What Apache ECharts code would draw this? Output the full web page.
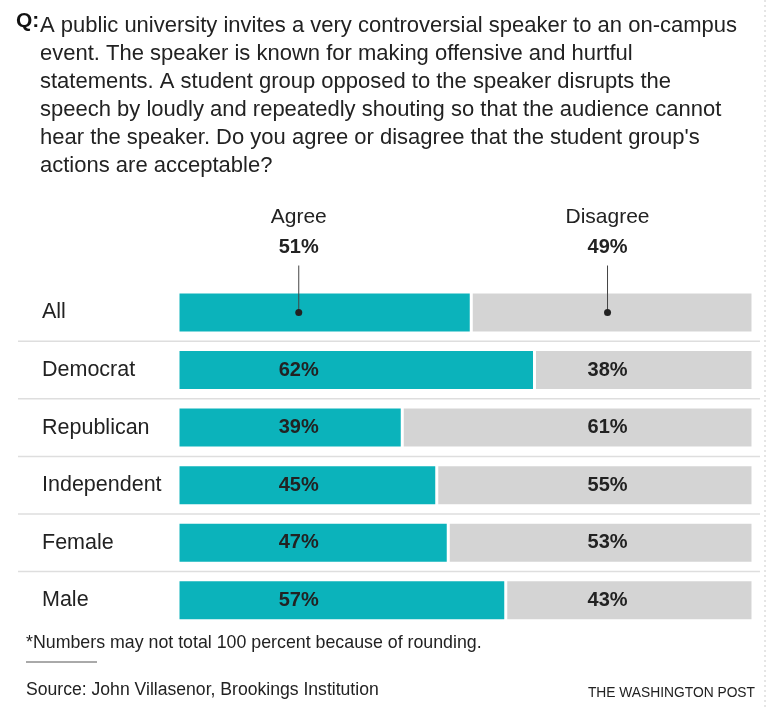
<!DOCTYPE html>
<html>
<head>
<meta charset="utf-8">
<script src="https://cdn.jsdelivr.net/npm/echarts@6/dist/echarts.min.js"></script>
<style>
  html, body { margin: 0; padding: 0; background: #fff; }
  #chart { width: 768px; height: 708px; }
</style>
</head>
<body>
<div id="chart"></div>
<script>
const groups = ['All', 'Democrat', 'Republican', 'Independent', 'Female', 'Male']
const agree = [51, 62, 39, 45, 47, 57]
const disagree = [49, 38, 61, 55, 53, 43]
const answerNames = ['Agree', 'Disagree']

const questionLines = [
    'A public university invites a very controversial speaker to an on-campus',
    'event. The speaker is known for making offensive and hurtful',
    'statements. A student group opposed to the speaker disrupts the',
    'speech by loudly and repeatedly shouting so that the audience cannot',
    "hear the speaker. Do you agree or disagree that the student group's",
    'actions are acceptable?'
]

const TEAL = '#0bb3bb'
const GREY = '#d4d4d4'
const INK = '#222'
const FONT = '"Liberation Sans", Arial, sans-serif'

// fixed label columns (in % of the axis)
const agreeCol = 21
const disagreeCol = 74.7

const chart = echarts.init(document.getElementById('chart'))

const options = {
    animation: false,
    textStyle: { fontFamily: FONT },
    title: [
        {
            text: 'Q:', left: 16, top: 11, padding: 0,
            textStyle: { fontSize: 21, fontWeight: 'bold', color: '#111', fontFamily: FONT }
        },
        {
            text: questionLines.join('\n'), left: 40, top: 12, padding: 0,
            textStyle: { fontSize: 22, lineHeight: 28, fontWeight: 'normal', color: INK, fontFamily: FONT }
        },
        {
            text: '*Numbers may not total 100 percent because of rounding.', left: 26, top: 634, padding: 0,
            textStyle: { fontSize: 17.8, fontWeight: 'normal', color: INK, fontFamily: FONT }
        },
        {
            text: 'Source: John Villasenor, Brookings Institution', left: 26, top: 681, padding: 0,
            textStyle: { fontSize: 17.6, fontWeight: 'normal', color: INK, fontFamily: FONT }
        },
        {
            text: 'THE WASHINGTON POST', right: 13, top: 686, padding: 0,
            textStyle: { fontSize: 13.8, fontWeight: 'normal', color: INK, fontFamily: FONT }
        }
    ],
    graphic: [
        { type: 'line', shape: { x1: 26, y1: 662, x2: 97, y2: 662 }, style: { stroke: '#555', lineWidth: 1 } },
        { type: 'line', shape: { x1: 765, y1: 0, x2: 765, y2: 708 }, style: { stroke: '#ccc', lineWidth: 1, lineDash: [2, 3] } }
    ],
    grid: { left: 178, right: 15, top: 283.75, bottom: 708 - 629 },
    xAxis: { type: 'value', min: 0, max: 100, show: false },
    yAxis: {
        type: 'category',
        inverse: true,
        data: groups,
        axisLine: { show: false },
        axisTick: { show: false },
        splitLine: { show: false },
        axisLabel: { align: 'left', margin: 136, fontSize: 21.5, color: INK, fontFamily: FONT }
    },
    series: [
        {
            // row separators
            type: 'custom',
            silent: true,
            z: 1,
            data: groups.slice(0, -1).map((g, i) => [0, i]),
            renderItem: (params, api) => {
                const p = api.coord([0, api.value(1)])
                const half = api.size([0, 1])[1] / 2
                return {
                    type: 'line',
                    shape: { x1: 18, y1: p[1] + half, x2: 760, y2: p[1] + half },
                    style: { stroke: '#dedede', lineWidth: 1.5 }
                }
            }
        },
        {
            name: answerNames[0],
            type: 'bar',
            stack: 'total',
            barWidth: 41,
            data: agree,
            itemStyle: { color: TEAL, borderColor: '#fff', borderWidth: 1.5 }
        },
        {
            name: answerNames[1],
            type: 'bar',
            stack: 'total',
            barWidth: 41,
            data: disagree,
            itemStyle: { color: GREY, borderColor: '#fff', borderWidth: 1.5 }
        },
        {
            // value labels, rows other than All
            type: 'scatter',
            symbolSize: 0,
            z: 5,
            itemStyle: { opacity: 1 },
            data: agree.map((v, i) => [agreeCol, i, v]).slice(1)
                .concat(disagree.map((v, i) => [disagreeCol, i, v]).slice(1)),
            label: {
                show: true,
                position: 'inside',
                formatter: p => p.value[2] + '%',
                fontSize: 20,
                fontWeight: 'bold',
                color: INK,
                opacity: 1,
                fontFamily: FONT
            }
        },
        {
            // header callouts for the All row
            type: 'custom',
            z: 6,
            data: [[agreeCol, 0], [disagreeCol, 0]],
            renderItem: (params, api) => {
                const p = api.coord([api.value(0), api.value(1)])
                const pct = params.dataIndex === 0 ? agree[0] : disagree[0]
                return {
                    type: 'group',
                    children: [
                        { type: 'line', shape: { x1: p[0], y1: p[1], x2: p[0], y2: p[1] - 47 }, style: { stroke: '#444', lineWidth: 1 } },
                        { type: 'circle', shape: { cx: p[0], cy: p[1], r: 3.5 }, style: { fill: INK } },
                        {
                            type: 'text',
                            style: { text: answerNames[params.dataIndex], x: p[0], y: p[1] - 95, align: 'center', verticalAlign: 'middle', fontSize: 21, fill: INK, fontFamily: FONT }
                        },
                        {
                            type: 'text',
                            style: { text: pct + '%', x: p[0], y: p[1] - 65, align: 'center', verticalAlign: 'middle', fontSize: 20, fontWeight: 'bold', fill: INK, fontFamily: FONT }
                        }
                    ]
                }
            }
        }
    ]
}

chart.setOption(options)
</script>
</body>
</html>
